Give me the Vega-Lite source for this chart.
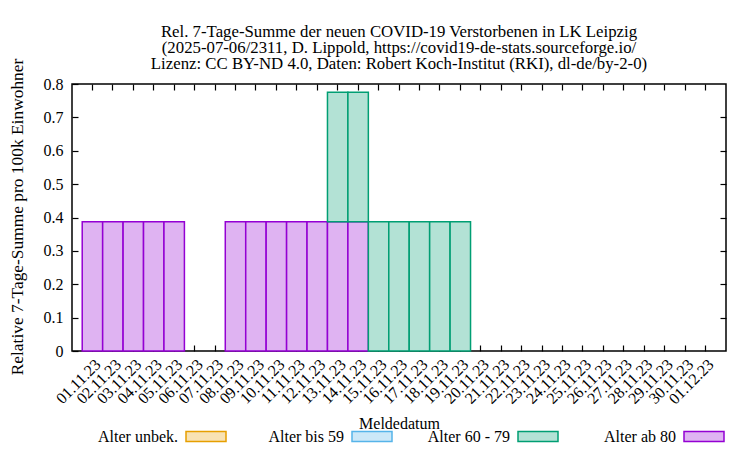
{
  "$schema": "https://vega.github.io/schema/vega-lite/v6.json",
  "autosize": {"type": "none"},
  "padding": {"left": 72, "top": 84, "right": 24, "bottom": 99},
  "width": 654,
  "height": 267,
  "background": "white",
  "title": {
    "text": ["Rel. 7-Tage-Summe der neuen COVID-19 Verstorbenen in LK Leipzig", "(2025-07-06/2311, D. Lippold, https://covid19-de-stats.sourceforge.io/", "Lizenz: CC BY-ND 4.0, Daten: Robert Koch-Institut (RKI), dl-de/by-2-0)"],
    "anchor": "middle",
    "font": "Liberation Serif",
    "fontSize": 16.8,
    "fontWeight": "normal",
    "lineHeight": 16.3,
    "offset": -15,
    "color": "black"
  },
  "data": {
    "values": [
      {"datum": "01.11.23", "grp": "Alter ab 80", "wert": 0.3876},
      {"datum": "02.11.23", "grp": "Alter ab 80", "wert": 0.3876},
      {"datum": "03.11.23", "grp": "Alter ab 80", "wert": 0.3876},
      {"datum": "04.11.23", "grp": "Alter ab 80", "wert": 0.3876},
      {"datum": "05.11.23", "grp": "Alter ab 80", "wert": 0.3876},
      {"datum": "08.11.23", "grp": "Alter ab 80", "wert": 0.3876},
      {"datum": "09.11.23", "grp": "Alter ab 80", "wert": 0.3876},
      {"datum": "10.11.23", "grp": "Alter ab 80", "wert": 0.3876},
      {"datum": "11.11.23", "grp": "Alter ab 80", "wert": 0.3876},
      {"datum": "12.11.23", "grp": "Alter ab 80", "wert": 0.3876},
      {"datum": "13.11.23", "grp": "Alter ab 80", "wert": 0.3876},
      {"datum": "14.11.23", "grp": "Alter ab 80", "wert": 0.3876},
      {"datum": "13.11.23", "grp": "Alter 60 - 79", "wert": 0.3876},
      {"datum": "14.11.23", "grp": "Alter 60 - 79", "wert": 0.3876},
      {"datum": "15.11.23", "grp": "Alter 60 - 79", "wert": 0.3876},
      {"datum": "16.11.23", "grp": "Alter 60 - 79", "wert": 0.3876},
      {"datum": "17.11.23", "grp": "Alter 60 - 79", "wert": 0.3876},
      {"datum": "18.11.23", "grp": "Alter 60 - 79", "wert": 0.3876},
      {"datum": "19.11.23", "grp": "Alter 60 - 79", "wert": 0.3876}
    ]
  },
  "layer": [
    {
      "mark": {"type": "bar", "strokeWidth": 1.5, "fillOpacity": 1},
      "encoding": {
        "x": {
          "field": "datum", "type": "ordinal",
          "scale": {"domain": ["01.11.23","02.11.23","03.11.23","04.11.23","05.11.23","06.11.23","07.11.23","08.11.23","09.11.23","10.11.23","11.11.23","12.11.23","13.11.23","14.11.23","15.11.23","16.11.23","17.11.23","18.11.23","19.11.23","20.11.23","21.11.23","22.11.23","23.11.23","24.11.23","25.11.23","26.11.23","27.11.23","28.11.23","29.11.23","30.11.23","01.12.23"], "paddingInner": 0, "paddingOuter": 0.5},
          "axis": {"orient": "bottom", "title": "Meldedatum", "labelAngle": -45, "labelAlign": "right", "labelBaseline": "top", "labelPadding": 11, "tickSize": -6, "titleY": 77, "titleBaseline": "alphabetic"}
        },
        "y": {
          "field": "wert", "type": "quantitative", "stack": "zero",
          "scale": {"domain": [0, 0.8], "nice": false, "zero": true},
          "axis": {"orient": "left", "title": "Relative 7-Tage-Summe pro 100k Einwohner", "values": [0,0.1,0.2,0.3,0.4,0.5,0.6,0.7,0.8], "format": ".1~f", "tickSize": -6, "labelPadding": 15, "titleX": -49.5, "titleY": 132.5, "titleAlign": "center", "titleBaseline": "alphabetic", "titleAngle": -90, "titleFontSize": 17.4}
        },
        "fill": {
          "field": "grp", "type": "nominal",
          "scale": {"domain": ["Alter unbek.", "Alter bis 59", "Alter 60 - 79", "Alter ab 80"], "range": ["#f8e2b3", "#cce8f8", "#b3e2d5", "#dfb3f2"]},
          "legend": {"orient": "none", "legendX": 123, "legendY": 341.5, "direction": "horizontal", "title": null}
        },
        "stroke": {
          "field": "grp", "type": "nominal",
          "scale": {"domain": ["Alter unbek.", "Alter bis 59", "Alter 60 - 79", "Alter ab 80"], "range": ["#e69f00", "#56b4e9", "#009e73", "#9400d3"]},
          "legend": {"orient": "none", "legendX": 123, "legendY": 341.5, "direction": "horizontal", "title": null}
        },
        "order": {"field": "grp", "sort": "descending"}
      }
    },
    {
      "mark": {"type": "bar", "opacity": 0},
      "encoding": {
        "x": {
          "field": "datum", "type": "ordinal",
          "axis": {"orient": "top", "title": null, "labels": false, "tickSize": -6}
        },
        "y": {
          "field": "wert", "type": "quantitative", "stack": "zero",
          "axis": {"orient": "right", "title": null, "labels": false, "tickSize": -6, "values": [0.1,0.2,0.3,0.4,0.5,0.6,0.7]}
        }
      }
    }
  ],
  "config": {
    "view": {"stroke": "black", "strokeWidth": 1.5},
    "font": "Liberation Serif",
    "axis": {
      "domain": false, "grid": false,
      "labelFont": "Liberation Serif", "labelFontSize": 16, "labelColor": "black",
      "titleFont": "Liberation Serif", "titleFontSize": 16, "titleFontWeight": "normal", "titleColor": "black",
      "tickColor": "black", "tickWidth": 1.2
    },
    "legend": {
      "labelFont": "Liberation Serif", "labelFontSize": 16, "labelColor": "black",
      "symbolType": "M-2,-0.5H2V0.5H-2Z", "symbolSize": 400, "symbolStrokeWidth": 1.5,
      "labelAlign": "right", "labelOffset": -39, "columnPadding": 32, "padding": 0, "gridAlign": "all", "labelLimit": 200
    }
  }
}
